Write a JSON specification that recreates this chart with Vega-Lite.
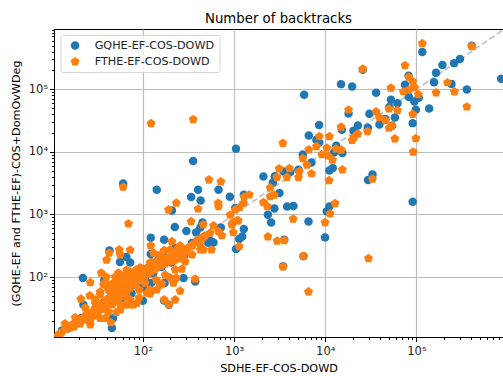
{"$schema":"https://vega.github.io/schema/vega-lite/v6.json","width":449,"height":308,"autosize":"none","padding":{"left":54,"top":29,"right":0,"bottom":39},
"background":"white",
"title":{"text":"Number of backtracks","font":"DejaVu Sans","fontSize":13.3,"fontWeight":"normal","color":"black","offset":-2},
"config":{"view":{"stroke":"black","strokeWidth":1},"font":"DejaVu Sans"},
"datasets":{"diag":[{"x":10,"y":10},{"x":1000000,"y":1000000}],
"pts":[
{"s":"GQHE-EF-COS-DOWD","x":405000,"y":495000},{"s":"GQHE-EF-COS-DOWD","x":116000,"y":393000},{"s":"GQHE-EF-COS-DOWD","x":300000,"y":304000},{"s":"GQHE-EF-COS-DOWD","x":259000,"y":262000},{"s":"GQHE-EF-COS-DOWD","x":193000,"y":244000},{"s":"GQHE-EF-COS-DOWD","x":164000,"y":184000},{"s":"GQHE-EF-COS-DOWD","x":82000,"y":164000},{"s":"GQHE-EF-COS-DOWD","x":156000,"y":130000},{"s":"GQHE-EF-COS-DOWD","x":75000,"y":118000},{"s":"GQHE-EF-COS-DOWD","x":242000,"y":122000},{"s":"GQHE-EF-COS-DOWD","x":850000,"y":147000},{"s":"GQHE-EF-COS-DOWD","x":14900,"y":121000},{"s":"GQHE-EF-COS-DOWD","x":19700,"y":111000},{"s":"GQHE-EF-COS-DOWD","x":25800,"y":205000},{"s":"GQHE-EF-COS-DOWD","x":36100,"y":88000},{"s":"GQHE-EF-COS-DOWD","x":5870,"y":81500},{"s":"GQHE-EF-COS-DOWD","x":357000,"y":99000},{"s":"GQHE-EF-COS-DOWD","x":82500,"y":75000},{"s":"GQHE-EF-COS-DOWD","x":95000,"y":64000},{"s":"GQHE-EF-COS-DOWD","x":106000,"y":73000},{"s":"GQHE-EF-COS-DOWD","x":52500,"y":68000},{"s":"GQHE-EF-COS-DOWD","x":62000,"y":60000},{"s":"GQHE-EF-COS-DOWD","x":50500,"y":52000},{"s":"GQHE-EF-COS-DOWD","x":98500,"y":47000},{"s":"GQHE-EF-COS-DOWD","x":138000,"y":49500},{"s":"GQHE-EF-COS-DOWD","x":18000,"y":41000},{"s":"GQHE-EF-COS-DOWD","x":30500,"y":40700},{"s":"GQHE-EF-COS-DOWD","x":58000,"y":35400},{"s":"GQHE-EF-COS-DOWD","x":45700,"y":33400},{"s":"GQHE-EF-COS-DOWD","x":91000,"y":28800},{"s":"GQHE-EF-COS-DOWD","x":39300,"y":27400},{"s":"GQHE-EF-COS-DOWD","x":8550,"y":26800},{"s":"GQHE-EF-COS-DOWD","x":22800,"y":26400},{"s":"GQHE-EF-COS-DOWD","x":15200,"y":22500},{"s":"GQHE-EF-COS-DOWD","x":20400,"y":21700},{"s":"GQHE-EF-COS-DOWD","x":29300,"y":24300},{"s":"GQHE-EF-COS-DOWD","x":54000,"y":26100},{"s":"GQHE-EF-COS-DOWD","x":6600,"y":18300},{"s":"GQHE-EF-COS-DOWD","x":8000,"y":15600},{"s":"GQHE-EF-COS-DOWD","x":8600,"y":14100},{"s":"GQHE-EF-COS-DOWD","x":13200,"y":12500},{"s":"GQHE-EF-COS-DOWD","x":5680,"y":9100},{"s":"GQHE-EF-COS-DOWD","x":12500,"y":9800},{"s":"GQHE-EF-COS-DOWD","x":15400,"y":9600},{"s":"GQHE-EF-COS-DOWD","x":7060,"y":6780},{"s":"GQHE-EF-COS-DOWD","x":5080,"y":5200},{"s":"GQHE-EF-COS-DOWD","x":4120,"y":4760},{"s":"GQHE-EF-COS-DOWD","x":3480,"y":4870},{"s":"GQHE-EF-COS-DOWD","x":2800,"y":4050},{"s":"GQHE-EF-COS-DOWD","x":12100,"y":5500},{"s":"GQHE-EF-COS-DOWD","x":11100,"y":5050},{"s":"GQHE-EF-COS-DOWD","x":33000,"y":4360},{"s":"GQHE-EF-COS-DOWD","x":29500,"y":3540},{"s":"GQHE-EF-COS-DOWD","x":2660,"y":3200},{"s":"GQHE-EF-COS-DOWD","x":356,"y":7150},{"s":"GQHE-EF-COS-DOWD","x":1050,"y":11200},{"s":"GQHE-EF-COS-DOWD","x":60.8,"y":3130},{"s":"GQHE-EF-COS-DOWD","x":2100,"y":4050},{"s":"GQHE-EF-COS-DOWD","x":142,"y":2480},{"s":"GQHE-EF-COS-DOWD","x":403,"y":2480},{"s":"GQHE-EF-COS-DOWD","x":676,"y":2480},{"s":"GQHE-EF-COS-DOWD","x":3150,"y":2200},{"s":"GQHE-EF-COS-DOWD","x":3820,"y":1340},{"s":"GQHE-EF-COS-DOWD","x":4480,"y":1360},{"s":"GQHE-EF-COS-DOWD","x":2770,"y":1250},{"s":"GQHE-EF-COS-DOWD","x":11100,"y":1340},{"s":"GQHE-EF-COS-DOWD","x":10400,"y":1120},{"s":"GQHE-EF-COS-DOWD","x":2550,"y":745},{"s":"GQHE-EF-COS-DOWD","x":6550,"y":770},{"s":"GQHE-EF-COS-DOWD","x":3550,"y":395},{"s":"GQHE-EF-COS-DOWD","x":9950,"y":430},{"s":"GQHE-EF-COS-DOWD","x":5770,"y":215},{"s":"GQHE-EF-COS-DOWD","x":3450,"y":148},{"s":"GQHE-EF-COS-DOWD","x":91000,"y":1600},{"s":"GQHE-EF-COS-DOWD","x":2820,"y":4050},{"s":"GQHE-EF-COS-DOWD","x":1280,"y":2060},{"s":"GQHE-EF-COS-DOWD","x":2350,"y":990},{"s":"GQHE-EF-COS-DOWD","x":1280,"y":585},{"s":"GQHE-EF-COS-DOWD","x":1230,"y":445},{"s":"GQHE-EF-COS-DOWD","x":1140,"y":405},{"s":"GQHE-EF-COS-DOWD","x":1050,"y":280},{"s":"GQHE-EF-COS-DOWD","x":338,"y":1900},{"s":"GQHE-EF-COS-DOWD","x":430,"y":1670},{"s":"GQHE-EF-COS-DOWD","x":900,"y":1920},{"s":"GQHE-EF-COS-DOWD","x":208,"y":1160},{"s":"GQHE-EF-COS-DOWD","x":1030,"y":1270},{"s":"GQHE-EF-COS-DOWD","x":224,"y":630},{"s":"GQHE-EF-COS-DOWD","x":300,"y":543},{"s":"GQHE-EF-COS-DOWD","x":450,"y":745},{"s":"GQHE-EF-COS-DOWD","x":384,"y":517},{"s":"GQHE-EF-COS-DOWD","x":427,"y":620},{"s":"GQHE-EF-COS-DOWD","x":717,"y":620},{"s":"GQHE-EF-COS-DOWD","x":122,"y":424},{"s":"GQHE-EF-COS-DOWD","x":171,"y":395},{"s":"GQHE-EF-COS-DOWD","x":547,"y":380},{"s":"GQHE-EF-COS-DOWD","x":595,"y":357},{"s":"GQHE-EF-COS-DOWD","x":520,"y":353},{"s":"GQHE-EF-COS-DOWD","x":345,"y":349},{"s":"GQHE-EF-COS-DOWD","x":43,"y":266},{"s":"GQHE-EF-COS-DOWD","x":122,"y":233},{"s":"GQHE-EF-COS-DOWD","x":66,"y":209},{"s":"GQHE-EF-COS-DOWD","x":56,"y":174},{"s":"GQHE-EF-COS-DOWD","x":72.5,"y":171},{"s":"GQHE-EF-COS-DOWD","x":226,"y":290},{"s":"GQHE-EF-COS-DOWD","x":171,"y":189},{"s":"GQHE-EF-COS-DOWD","x":284,"y":215},{"s":"GQHE-EF-COS-DOWD","x":22,"y":96.5},{"s":"GQHE-EF-COS-DOWD","x":279,"y":96.5},{"s":"GQHE-EF-COS-DOWD","x":375,"y":85},{"s":"GQHE-EF-COS-DOWD","x":173,"y":80},{"s":"GQHE-EF-COS-DOWD","x":37.7,"y":90},{"s":"GQHE-EF-COS-DOWD","x":100,"y":41.8},{"s":"GQHE-EF-COS-DOWD","x":171,"y":42},{"s":"GQHE-EF-COS-DOWD","x":193,"y":36},{"s":"GQHE-EF-COS-DOWD","x":47,"y":22},{"s":"GQHE-EF-COS-DOWD","x":45.7,"y":15.3},{"s":"GQHE-EF-COS-DOWD","x":22.3,"y":36},{"s":"GQHE-EF-COS-DOWD","x":123,"y":80},
{"s":"GQHE-EF-COS-DOWD","x":11,"y":11},{"s":"GQHE-EF-COS-DOWD","x":12,"y":12},{"s":"GQHE-EF-COS-DOWD","x":13,"y":14},{"s":"GQHE-EF-COS-DOWD","x":15,"y":15},{"s":"GQHE-EF-COS-DOWD","x":17,"y":17},{"s":"GQHE-EF-COS-DOWD","x":19,"y":20},{"s":"GQHE-EF-COS-DOWD","x":21,"y":22},{"s":"GQHE-EF-COS-DOWD","x":24,"y":24},{"s":"GQHE-EF-COS-DOWD","x":27,"y":26},{"s":"GQHE-EF-COS-DOWD","x":30,"y":31},{"s":"GQHE-EF-COS-DOWD","x":33,"y":30},{"s":"GQHE-EF-COS-DOWD","x":36,"y":38},{"s":"GQHE-EF-COS-DOWD","x":40,"y":36},{"s":"GQHE-EF-COS-DOWD","x":44,"y":48},{"s":"GQHE-EF-COS-DOWD","x":48,"y":50},{"s":"GQHE-EF-COS-DOWD","x":52,"y":60},{"s":"GQHE-EF-COS-DOWD","x":58,"y":55},{"s":"GQHE-EF-COS-DOWD","x":63,"y":70},{"s":"GQHE-EF-COS-DOWD","x":70,"y":62},{"s":"GQHE-EF-COS-DOWD","x":75,"y":85},{"s":"GQHE-EF-COS-DOWD","x":84,"y":75},{"s":"GQHE-EF-COS-DOWD","x":92,"y":100},{"s":"GQHE-EF-COS-DOWD","x":105,"y":95},{"s":"GQHE-EF-COS-DOWD","x":115,"y":130},{"s":"GQHE-EF-COS-DOWD","x":130,"y":115},{"s":"GQHE-EF-COS-DOWD","x":145,"y":160},{"s":"GQHE-EF-COS-DOWD","x":160,"y":145},{"s":"GQHE-EF-COS-DOWD","x":180,"y":200},{"s":"GQHE-EF-COS-DOWD","x":205,"y":170},{"s":"GQHE-EF-COS-DOWD","x":240,"y":230},{"s":"GQHE-EF-COS-DOWD","x":260,"y":290},{"s":"GQHE-EF-COS-DOWD","x":125,"y":170},{"s":"GQHE-EF-COS-DOWD","x":148,"y":190},{"s":"GQHE-EF-COS-DOWD","x":60,"y":44},{"s":"GQHE-EF-COS-DOWD","x":75,"y":55},{"s":"GQHE-EF-COS-DOWD","x":100,"y":68},
{"s":"FTHE-EF-COS-DOWD","x":123,"y":28400},{"s":"FTHE-EF-COS-DOWD","x":356,"y":33000},{"s":"FTHE-EF-COS-DOWD","x":530,"y":3600},{"s":"FTHE-EF-COS-DOWD","x":717,"y":3330},{"s":"FTHE-EF-COS-DOWD","x":60.8,"y":2740},{"s":"FTHE-EF-COS-DOWD","x":2490,"y":2670},{"s":"FTHE-EF-COS-DOWD","x":116000,"y":540000},{"s":"FTHE-EF-COS-DOWD","x":405000,"y":485000},{"s":"FTHE-EF-COS-DOWD","x":25800,"y":212000},{"s":"FTHE-EF-COS-DOWD","x":75000,"y":240000},{"s":"FTHE-EF-COS-DOWD","x":82500,"y":157000},{"s":"FTHE-EF-COS-DOWD","x":91000,"y":133000},{"s":"FTHE-EF-COS-DOWD","x":219000,"y":128000},{"s":"FTHE-EF-COS-DOWD","x":95000,"y":107000},{"s":"FTHE-EF-COS-DOWD","x":52500,"y":105000},{"s":"FTHE-EF-COS-DOWD","x":82000,"y":98000},{"s":"FTHE-EF-COS-DOWD","x":72000,"y":92000},{"s":"FTHE-EF-COS-DOWD","x":105000,"y":82500},{"s":"FTHE-EF-COS-DOWD","x":164000,"y":88000},{"s":"FTHE-EF-COS-DOWD","x":261000,"y":91300},{"s":"FTHE-EF-COS-DOWD","x":357000,"y":52500},{"s":"FTHE-EF-COS-DOWD","x":18000,"y":47000},{"s":"FTHE-EF-COS-DOWD","x":36100,"y":43800},{"s":"FTHE-EF-COS-DOWD","x":50000,"y":48800},{"s":"FTHE-EF-COS-DOWD","x":62000,"y":46000},{"s":"FTHE-EF-COS-DOWD","x":91000,"y":40000},{"s":"FTHE-EF-COS-DOWD","x":39300,"y":35400},{"s":"FTHE-EF-COS-DOWD","x":45700,"y":31800},{"s":"FTHE-EF-COS-DOWD","x":54000,"y":26100},{"s":"FTHE-EF-COS-DOWD","x":50000,"y":24000},{"s":"FTHE-EF-COS-DOWD","x":14900,"y":25000},{"s":"FTHE-EF-COS-DOWD","x":29000,"y":21200},{"s":"FTHE-EF-COS-DOWD","x":22800,"y":19300},{"s":"FTHE-EF-COS-DOWD","x":20700,"y":17200},{"s":"FTHE-EF-COS-DOWD","x":19700,"y":15400},{"s":"FTHE-EF-COS-DOWD","x":58000,"y":16200},{"s":"FTHE-EF-COS-DOWD","x":98500,"y":16400},{"s":"FTHE-EF-COS-DOWD","x":8600,"y":17600},{"s":"FTHE-EF-COS-DOWD","x":11100,"y":17600},{"s":"FTHE-EF-COS-DOWD","x":3430,"y":13800},{"s":"FTHE-EF-COS-DOWD","x":8000,"y":12200},{"s":"FTHE-EF-COS-DOWD","x":6600,"y":10800},{"s":"FTHE-EF-COS-DOWD","x":10400,"y":11600},{"s":"FTHE-EF-COS-DOWD","x":13100,"y":11200},{"s":"FTHE-EF-COS-DOWD","x":15000,"y":10700},{"s":"FTHE-EF-COS-DOWD","x":92000,"y":10000},{"s":"FTHE-EF-COS-DOWD","x":9200,"y":9100},{"s":"FTHE-EF-COS-DOWD","x":10800,"y":8650},{"s":"FTHE-EF-COS-DOWD","x":12000,"y":7400},{"s":"FTHE-EF-COS-DOWD","x":5680,"y":7850},{"s":"FTHE-EF-COS-DOWD","x":6300,"y":6200},{"s":"FTHE-EF-COS-DOWD","x":15400,"y":5200},{"s":"FTHE-EF-COS-DOWD","x":3120,"y":5370},{"s":"FTHE-EF-COS-DOWD","x":4050,"y":5430},{"s":"FTHE-EF-COS-DOWD","x":5200,"y":4870},{"s":"FTHE-EF-COS-DOWD","x":3800,"y":3950},{"s":"FTHE-EF-COS-DOWD","x":5080,"y":3900},{"s":"FTHE-EF-COS-DOWD","x":7060,"y":4500},{"s":"FTHE-EF-COS-DOWD","x":2950,"y":3950},{"s":"FTHE-EF-COS-DOWD","x":11000,"y":3490},{"s":"FTHE-EF-COS-DOWD","x":33000,"y":3680},{"s":"FTHE-EF-COS-DOWD","x":12800,"y":1500},{"s":"FTHE-EF-COS-DOWD","x":11300,"y":1030},{"s":"FTHE-EF-COS-DOWD","x":4450,"y":845},{"s":"FTHE-EF-COS-DOWD","x":9950,"y":745},{"s":"FTHE-EF-COS-DOWD","x":2970,"y":376},{"s":"FTHE-EF-COS-DOWD","x":3550,"y":385},{"s":"FTHE-EF-COS-DOWD","x":5770,"y":215},{"s":"FTHE-EF-COS-DOWD","x":29800,"y":198},{"s":"FTHE-EF-COS-DOWD","x":3450,"y":146},{"s":"FTHE-EF-COS-DOWD","x":6550,"y":58.2},{"s":"FTHE-EF-COS-DOWD","x":2760,"y":2040},{"s":"FTHE-EF-COS-DOWD","x":2490,"y":1940},{"s":"FTHE-EF-COS-DOWD","x":2100,"y":1550},{"s":"FTHE-EF-COS-DOWD","x":2320,"y":1340},{"s":"FTHE-EF-COS-DOWD","x":1470,"y":2060},{"s":"FTHE-EF-COS-DOWD","x":1290,"y":1900},{"s":"FTHE-EF-COS-DOWD","x":1270,"y":1520},{"s":"FTHE-EF-COS-DOWD","x":1150,"y":1310},{"s":"FTHE-EF-COS-DOWD","x":1030,"y":1190},{"s":"FTHE-EF-COS-DOWD","x":1090,"y":800},{"s":"FTHE-EF-COS-DOWD","x":970,"y":745},{"s":"FTHE-EF-COS-DOWD","x":980,"y":517},{"s":"FTHE-EF-COS-DOWD","x":2350,"y":440},{"s":"FTHE-EF-COS-DOWD","x":1140,"y":308},{"s":"FTHE-EF-COS-DOWD","x":191,"y":1190},{"s":"FTHE-EF-COS-DOWD","x":233,"y":1530},{"s":"FTHE-EF-COS-DOWD","x":403,"y":1230},{"s":"FTHE-EF-COS-DOWD","x":670,"y":1520},{"s":"FTHE-EF-COS-DOWD","x":676,"y":1340},{"s":"FTHE-EF-COS-DOWD","x":69.5,"y":710},{"s":"FTHE-EF-COS-DOWD","x":338,"y":775},{"s":"FTHE-EF-COS-DOWD","x":905,"y":980},{"s":"FTHE-EF-COS-DOWD","x":1110,"y":793},{"s":"FTHE-EF-COS-DOWD","x":945,"y":685},{"s":"FTHE-EF-COS-DOWD","x":595,"y":660},{"s":"FTHE-EF-COS-DOWD","x":460,"y":685},{"s":"FTHE-EF-COS-DOWD","x":735,"y":460},{"s":"FTHE-EF-COS-DOWD","x":676,"y":535},{"s":"FTHE-EF-COS-DOWD","x":547,"y":505},{"s":"FTHE-EF-COS-DOWD","x":427,"y":273},{"s":"FTHE-EF-COS-DOWD","x":460,"y":273},{"s":"FTHE-EF-COS-DOWD","x":565,"y":273},{"s":"FTHE-EF-COS-DOWD","x":122,"y":317},{"s":"FTHE-EF-COS-DOWD","x":208,"y":370},{"s":"FTHE-EF-COS-DOWD","x":72.5,"y":270},{"s":"FTHE-EF-COS-DOWD","x":42.7,"y":242},{"s":"FTHE-EF-COS-DOWD","x":55,"y":273},{"s":"FTHE-EF-COS-DOWD","x":56.5,"y":227},{"s":"FTHE-EF-COS-DOWD","x":40,"y":188},{"s":"FTHE-EF-COS-DOWD","x":171,"y":265},{"s":"FTHE-EF-COS-DOWD","x":131,"y":242},{"s":"FTHE-EF-COS-DOWD","x":120,"y":171},{"s":"FTHE-EF-COS-DOWD","x":245,"y":290},{"s":"FTHE-EF-COS-DOWD","x":279,"y":280},{"s":"FTHE-EF-COS-DOWD","x":279,"y":200},{"s":"FTHE-EF-COS-DOWD","x":226,"y":242},{"s":"FTHE-EF-COS-DOWD","x":345,"y":328},{"s":"FTHE-EF-COS-DOWD","x":400,"y":395},{"s":"FTHE-EF-COS-DOWD","x":460,"y":436},{"s":"FTHE-EF-COS-DOWD","x":66.5,"y":130},{"s":"FTHE-EF-COS-DOWD","x":84,"y":130},{"s":"FTHE-EF-COS-DOWD","x":35,"y":116},{"s":"FTHE-EF-COS-DOWD","x":39.6,"y":100},{"s":"FTHE-EF-COS-DOWD","x":54,"y":116},{"s":"FTHE-EF-COS-DOWD","x":26.5,"y":82},{"s":"FTHE-EF-COS-DOWD","x":26.2,"y":50.2},{"s":"FTHE-EF-COS-DOWD","x":20.9,"y":44.5},{"s":"FTHE-EF-COS-DOWD","x":37,"y":75},{"s":"FTHE-EF-COS-DOWD","x":267,"y":134},{"s":"FTHE-EF-COS-DOWD","x":216,"y":80},{"s":"FTHE-EF-COS-DOWD","x":375,"y":93},{"s":"FTHE-EF-COS-DOWD","x":232,"y":96.5},{"s":"FTHE-EF-COS-DOWD","x":256,"y":60},{"s":"FTHE-EF-COS-DOWD","x":162,"y":78},{"s":"FTHE-EF-COS-DOWD","x":142,"y":62.5},{"s":"FTHE-EF-COS-DOWD","x":171,"y":43.5},{"s":"FTHE-EF-COS-DOWD","x":193,"y":36},{"s":"FTHE-EF-COS-DOWD","x":226,"y":43.5},{"s":"FTHE-EF-COS-DOWD","x":120,"y":62.5},{"s":"FTHE-EF-COS-DOWD","x":79,"y":36},{"s":"FTHE-EF-COS-DOWD","x":86,"y":38.5},{"s":"FTHE-EF-COS-DOWD","x":111,"y":55.5},{"s":"FTHE-EF-COS-DOWD","x":56.5,"y":36},{"s":"FTHE-EF-COS-DOWD","x":51,"y":27.3},{"s":"FTHE-EF-COS-DOWD","x":38.6,"y":22},{"s":"FTHE-EF-COS-DOWD","x":44.5,"y":18.8},{"s":"FTHE-EF-COS-DOWD","x":26.5,"y":20.3},{"s":"FTHE-EF-COS-DOWD","x":14,"y":18},
{"s":"FTHE-EF-COS-DOWD","x":11.8,"y":11.5},{"s":"FTHE-EF-COS-DOWD","x":12.4,"y":12.4},{"s":"FTHE-EF-COS-DOWD","x":13,"y":13.3},{"s":"FTHE-EF-COS-DOWD","x":14.4,"y":14.9},{"s":"FTHE-EF-COS-DOWD","x":16,"y":15.5},{"s":"FTHE-EF-COS-DOWD","x":16.8,"y":17.3},{"s":"FTHE-EF-COS-DOWD","x":17.6,"y":16},{"s":"FTHE-EF-COS-DOWD","x":19,"y":18.6},{"s":"FTHE-EF-COS-DOWD","x":20,"y":20},{"s":"FTHE-EF-COS-DOWD","x":20.5,"y":18},{"s":"FTHE-EF-COS-DOWD","x":22,"y":22.4},{"s":"FTHE-EF-COS-DOWD","x":23.3,"y":20.8},{"s":"FTHE-EF-COS-DOWD","x":23.9,"y":25},{"s":"FTHE-EF-COS-DOWD","x":25.8,"y":25},{"s":"FTHE-EF-COS-DOWD","x":26.5,"y":21.6},{"s":"FTHE-EF-COS-DOWD","x":27.8,"y":27.9},{"s":"FTHE-EF-COS-DOWD","x":29.2,"y":24.1},{"s":"FTHE-EF-COS-DOWD","x":30.7,"y":32.3},{"s":"FTHE-EF-COS-DOWD","x":32.3,"y":26.9},{"s":"FTHE-EF-COS-DOWD","x":33.2,"y":34.8},{"s":"FTHE-EF-COS-DOWD","x":34.9,"y":31.2},{"s":"FTHE-EF-COS-DOWD","x":36.7,"y":37.4},{"s":"FTHE-EF-COS-DOWD","x":37.6,"y":31.2},{"s":"FTHE-EF-COS-DOWD","x":39.6,"y":43.5},{"s":"FTHE-EF-COS-DOWD","x":40.6,"y":34.8},{"s":"FTHE-EF-COS-DOWD","x":42.7,"y":46.7},{"s":"FTHE-EF-COS-DOWD","x":43.8,"y":37.4},{"s":"FTHE-EF-COS-DOWD","x":46,"y":52},{"s":"FTHE-EF-COS-DOWD","x":47.3,"y":41.8},{"s":"FTHE-EF-COS-DOWD","x":49.7,"y":56},{"s":"FTHE-EF-COS-DOWD","x":51,"y":45},{"s":"FTHE-EF-COS-DOWD","x":53.7,"y":62.5},{"s":"FTHE-EF-COS-DOWD","x":55,"y":50},{"s":"FTHE-EF-COS-DOWD","x":56.5,"y":75},{"s":"FTHE-EF-COS-DOWD","x":58,"y":56},{"s":"FTHE-EF-COS-DOWD","x":60.8,"y":67.5},{"s":"FTHE-EF-COS-DOWD","x":62.4,"y":54},{"s":"FTHE-EF-COS-DOWD","x":65.6,"y":78},{"s":"FTHE-EF-COS-DOWD","x":67.3,"y":60},{"s":"FTHE-EF-COS-DOWD","x":70.8,"y":87},{"s":"FTHE-EF-COS-DOWD","x":72.5,"y":67.5},{"s":"FTHE-EF-COS-DOWD","x":76.4,"y":100},{"s":"FTHE-EF-COS-DOWD","x":78.3,"y":75},{"s":"FTHE-EF-COS-DOWD","x":82.4,"y":105},{"s":"FTHE-EF-COS-DOWD","x":84.5,"y":80},{"s":"FTHE-EF-COS-DOWD","x":89,"y":113},{"s":"FTHE-EF-COS-DOWD","x":91,"y":90},{"s":"FTHE-EF-COS-DOWD","x":96,"y":121},{"s":"FTHE-EF-COS-DOWD","x":98.7,"y":94},{"s":"FTHE-EF-COS-DOWD","x":103,"y":131},{"s":"FTHE-EF-COS-DOWD","x":106,"y":105},{"s":"FTHE-EF-COS-DOWD","x":111,"y":141},{"s":"FTHE-EF-COS-DOWD","x":114,"y":113},{"s":"FTHE-EF-COS-DOWD","x":120,"y":152},{"s":"FTHE-EF-COS-DOWD","x":123,"y":121},{"s":"FTHE-EF-COS-DOWD","x":130,"y":163},{"s":"FTHE-EF-COS-DOWD","x":133,"y":131},{"s":"FTHE-EF-COS-DOWD","x":140,"y":176},{"s":"FTHE-EF-COS-DOWD","x":143,"y":141},{"s":"FTHE-EF-COS-DOWD","x":155,"y":182},{"s":"FTHE-EF-COS-DOWD","x":159,"y":152},{"s":"FTHE-EF-COS-DOWD","x":167,"y":196},{"s":"FTHE-EF-COS-DOWD","x":176,"y":163},{"s":"FTHE-EF-COS-DOWD","x":190,"y":203},{"s":"FTHE-EF-COS-DOWD","x":199,"y":176},{"s":"FTHE-EF-COS-DOWD","x":210,"y":219},{"s":"FTHE-EF-COS-DOWD","x":220,"y":182},{"s":"FTHE-EF-COS-DOWD","x":244,"y":227},{"s":"FTHE-EF-COS-DOWD","x":256,"y":196},{"s":"FTHE-EF-COS-DOWD","x":291,"y":254},{"s":"FTHE-EF-COS-DOWD","x":314,"y":295},{"s":"FTHE-EF-COS-DOWD","x":347,"y":317},{"s":"FTHE-EF-COS-DOWD","x":384,"y":353},{"s":"FTHE-EF-COS-DOWD","x":414,"y":395},{"s":"FTHE-EF-COS-DOWD","x":447,"y":425},{"s":"FTHE-EF-COS-DOWD","x":482,"y":457},{"s":"FTHE-EF-COS-DOWD","x":38.6,"y":81.5},{"s":"FTHE-EF-COS-DOWD","x":43.8,"y":75},{"s":"FTHE-EF-COS-DOWD","x":49.7,"y":100},{"s":"FTHE-EF-COS-DOWD","x":53.7,"y":90},{"s":"FTHE-EF-COS-DOWD","x":64,"y":108},{"s":"FTHE-EF-COS-DOWD","x":69,"y":96},{"s":"FTHE-EF-COS-DOWD","x":43.8,"y":58},{"s":"FTHE-EF-COS-DOWD","x":48.5,"y":67.5},{"s":"FTHE-EF-COS-DOWD","x":53.7,"y":43.5},{"s":"FTHE-EF-COS-DOWD","x":72.5,"y":43.5},{"s":"FTHE-EF-COS-DOWD","x":64,"y":36},{"s":"FTHE-EF-COS-DOWD","x":69,"y":43.5},{"s":"FTHE-EF-COS-DOWD","x":41.7,"y":62.5},{"s":"FTHE-EF-COS-DOWD","x":34,"y":52},{"s":"FTHE-EF-COS-DOWD","x":30,"y":43.5},
{"s":"FTHE-EF-COS-DOWD","x":18.1,"y":22.4},{"s":"FTHE-EF-COS-DOWD","x":23.3,"y":32.3},{"s":"FTHE-EF-COS-DOWD","x":30,"y":38},{"s":"FTHE-EF-COS-DOWD","x":34,"y":58},{"s":"FTHE-EF-COS-DOWD","x":46,"y":75},{"s":"FTHE-EF-COS-DOWD","x":59,"y":96.5},{"s":"FTHE-EF-COS-DOWD","x":72.5,"y":121},{"s":"FTHE-EF-COS-DOWD","x":93.5,"y":141},{"s":"FTHE-EF-COS-DOWD","x":49.7,"y":84.5},{"s":"FTHE-EF-COS-DOWD","x":78.3,"y":108},{"s":"FTHE-EF-COS-DOWD","x":26.5,"y":17.3},{"s":"FTHE-EF-COS-DOWD","x":34,"y":22},{"s":"FTHE-EF-COS-DOWD","x":41.7,"y":27.9},{"s":"FTHE-EF-COS-DOWD","x":56.5,"y":30},{"s":"FTHE-EF-COS-DOWD","x":72.5,"y":36},{"s":"FTHE-EF-COS-DOWD","x":91,"y":46.9},{"s":"FTHE-EF-COS-DOWD","x":120,"y":54},{"s":"FTHE-EF-COS-DOWD","x":155,"y":75},{"s":"FTHE-EF-COS-DOWD","x":199,"y":98},{"s":"FTHE-EF-COS-DOWD","x":140,"y":90},{"s":"FTHE-EF-COS-DOWD","x":176,"y":108},{"s":"FTHE-EF-COS-DOWD","x":106,"y":80},{"s":"FTHE-EF-COS-DOWD","x":226,"y":131},{"s":"FTHE-EF-COS-DOWD","x":291,"y":176},{"s":"FTHE-EF-COS-DOWD","x":91,"y":62.5},{"s":"FTHE-EF-COS-DOWD","x":64,"y":49},{"s":"FTHE-EF-COS-DOWD","x":46,"y":36},{"s":"FTHE-EF-COS-DOWD","x":34,"y":36},{"s":"FTHE-EF-COS-DOWD","x":199,"y":273},{"s":"FTHE-EF-COS-DOWD","x":256,"y":317},{"s":"FTHE-EF-COS-DOWD","x":155,"y":227},{"s":"FTHE-EF-COS-DOWD","x":347,"y":227},{"s":"FTHE-EF-COS-DOWD","x":427,"y":328}
]},
"encoding":{
"x":{"field":"x","type":"quantitative","title":"SDHE-EF-COS-DOWD","scale":{"type":"log","domain":[10.6,890000],"nice":false},
"axis":{"values":[20,30,40,50,60,70,80,90,100,200,300,400,500,600,700,800,900,1000,2000,3000,4000,5000,6000,7000,8000,9000,10000,20000,30000,40000,50000,60000,70000,80000,90000,100000,200000,300000,400000,500000,600000,700000,800000],
"labelExpr":"datum.value==100?'10²':datum.value==1000?'10³':datum.value==10000?'10⁴':datum.value==100000?'10⁵':''",
"labelFontSize":11.5,"labelColor":"#222","labelOverlap":false,"labelPadding":4,"labelFlush":false,"titleFontSize":11.2,"titleFontWeight":"normal","titleColor":"black","titlePadding":5,"domainColor":"black","tickColor":"black",
"tickSize":{"condition":{"test":"datum.value==100||datum.value==1000||datum.value==10000||datum.value==100000","value":4.5},"value":2.5},
"grid":true,"gridColor":"#bdbdbd","gridWidth":1.2,
"gridOpacity":{"condition":{"test":"datum.value==100||datum.value==1000||datum.value==10000||datum.value==100000","value":1},"value":0}}},
"y":{"field":"y","type":"quantitative","title":"(GQHE-EF and FTHE-EF)-COS+DomOvWDeg","scale":{"type":"log","domain":[11,920000],"nice":false},
"axis":{"values":[20,30,40,50,60,70,80,90,100,200,300,400,500,600,700,800,900,1000,2000,3000,4000,5000,6000,7000,8000,9000,10000,20000,30000,40000,50000,60000,70000,80000,90000,100000,200000,300000,400000,500000,600000,700000,800000,900000],
"labelExpr":"datum.value==100?'10²':datum.value==1000?'10³':datum.value==10000?'10⁴':datum.value==100000?'10⁵':''",
"labelFontSize":11.5,"labelColor":"#222","labelOverlap":false,"labelPadding":2,"labelFlush":false,"titleFontSize":11.2,"titleFontWeight":"normal","titleColor":"black","titlePadding":7,"domainColor":"black","tickColor":"black",
"tickSize":{"condition":{"test":"datum.value==100||datum.value==1000||datum.value==10000||datum.value==100000","value":4.5},"value":2.5},
"grid":true,"gridColor":"#bdbdbd","gridWidth":1.2,
"gridOpacity":{"condition":{"test":"datum.value==100||datum.value==1000||datum.value==10000||datum.value==100000","value":1},"value":0}}}
},
"layer":[
{"data":{"name":"diag"},"mark":{"type":"line","color":"#c8c8c8","strokeDash":[6,3],"strokeWidth":2,"clip":true}},
{"data":{"name":"pts"},"mark":{"type":"point","filled":true,"size":72,"opacity":1,"clip":true},
"encoding":{"color":{"field":"s","type":"nominal","sort":null,"scale":{"domain":["GQHE-EF-COS-DOWD","FTHE-EF-COS-DOWD"],"range":["#1f77b4","#ff7f0e"]},
"legend":{"title":null,"orient":"none","legendX":6.5,"legendY":6,"fillColor":"rgba(255,255,255,0.8)","strokeColor":"#d5d5d5","cornerRadius":2,"padding":5,"labelFontSize":11.2,"labelColor":"#222","symbolSize":72,"symbolStrokeWidth":0,"rowPadding":4,"labelOffset":14,"symbolOffset":4}},
"shape":{"field":"s","type":"nominal","sort":null,"scale":{"domain":["GQHE-EF-COS-DOWD","FTHE-EF-COS-DOWD"],"range":["circle","M0,-1.1L1.05,-0.34L0.65,0.89L-0.65,0.89L-1.05,-0.34Z"]}}}}
]}
